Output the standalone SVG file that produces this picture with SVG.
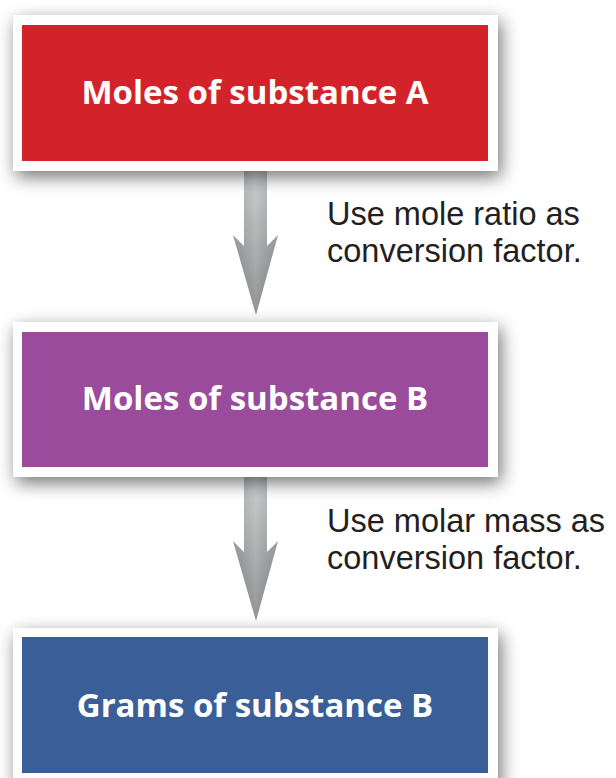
<svg xmlns="http://www.w3.org/2000/svg" width="616" height="778" viewBox="0 0 616 778">
<defs>
<filter id="sh" x="-20%" y="-30%" width="140%" height="170%">
<feGaussianBlur in="SourceAlpha" stdDeviation="9"/>
<feOffset dx="3" dy="6" result="b"/>
<feComponentTransfer><feFuncA type="linear" slope="0.55"/></feComponentTransfer>
<feMerge><feMergeNode/><feMergeNode in="SourceGraphic"/></feMerge>
</filter>
<linearGradient id="ag" x1="0" y1="0" x2="0" y2="1">
<stop offset="0" stop-color="#c9cacc"/>
<stop offset="1" stop-color="#858688"/>
</linearGradient>
<linearGradient id="sg" x1="0" y1="0" x2="1" y2="0">
<stop offset="0" stop-color="#000" stop-opacity="0.1"/>
<stop offset="0.5" stop-color="#fff" stop-opacity="0.12"/>
<stop offset="1" stop-color="#000" stop-opacity="0.1"/>
</linearGradient>
</defs>
<style>
.frame{fill:#fff}
.title{font-family:"Open Sans","Liberation Sans",sans-serif;font-weight:bold;font-size:33px;fill:#fff;text-anchor:middle}
.lbl{font-family:"Liberation Sans",Arial,sans-serif;font-size:32.5px;fill:#231f20}
.arrow{fill:url(#ag)}
</style>
<rect width="616" height="778" fill="#fff"/>
<g id="connectors">
<g id="arrow1" class="arrow">
<path d="M244,168 H267 V246 L278,235 L256,315 L233,235 L244,246 Z"/>
<path d="M244,168 H267 V246 L278,235 L256,315 L233,235 L244,246 Z" fill="url(#sg)"/>
</g>
<g id="arrow2" class="arrow">
<path d="M244,474 H267 V552 L278,541 L256,621 L233,541 L244,552 Z"/>
<path d="M244,474 H267 V552 L278,541 L256,621 L233,541 L244,552 Z" fill="url(#sg)"/>
</g>
</g>
<g id="nodeA">
<rect class="frame" x="13" y="15" width="485" height="156" filter="url(#sh)"/>
<rect x="22" y="25" width="466" height="136" fill="#d2232a"/>
<text class="title" x="255" y="104">Moles of substance A</text>
</g>
<g id="nodeB">
<rect class="frame" x="13" y="322" width="485" height="155" filter="url(#sh)"/>
<rect x="22" y="332" width="466" height="135" fill="#9a4b9b"/>
<text class="title" x="255" y="410">Moles of substance B</text>
</g>
<g id="nodeC">
<rect class="frame" x="13" y="628" width="485" height="160" filter="url(#sh)"/>
<rect x="22" y="637" width="466" height="136" fill="#3a5f98"/>
<text class="title" x="255" y="717">Grams of substance B</text>
</g>
<g id="label1">
<text class="lbl" x="327" y="225">Use mole ratio as</text>
<text class="lbl" x="327" y="262">conversion factor.</text>
</g>
<g id="label2">
<text class="lbl" x="327" y="532">Use molar mass as</text>
<text class="lbl" x="327" y="569">conversion factor.</text>
</g>
</svg>
